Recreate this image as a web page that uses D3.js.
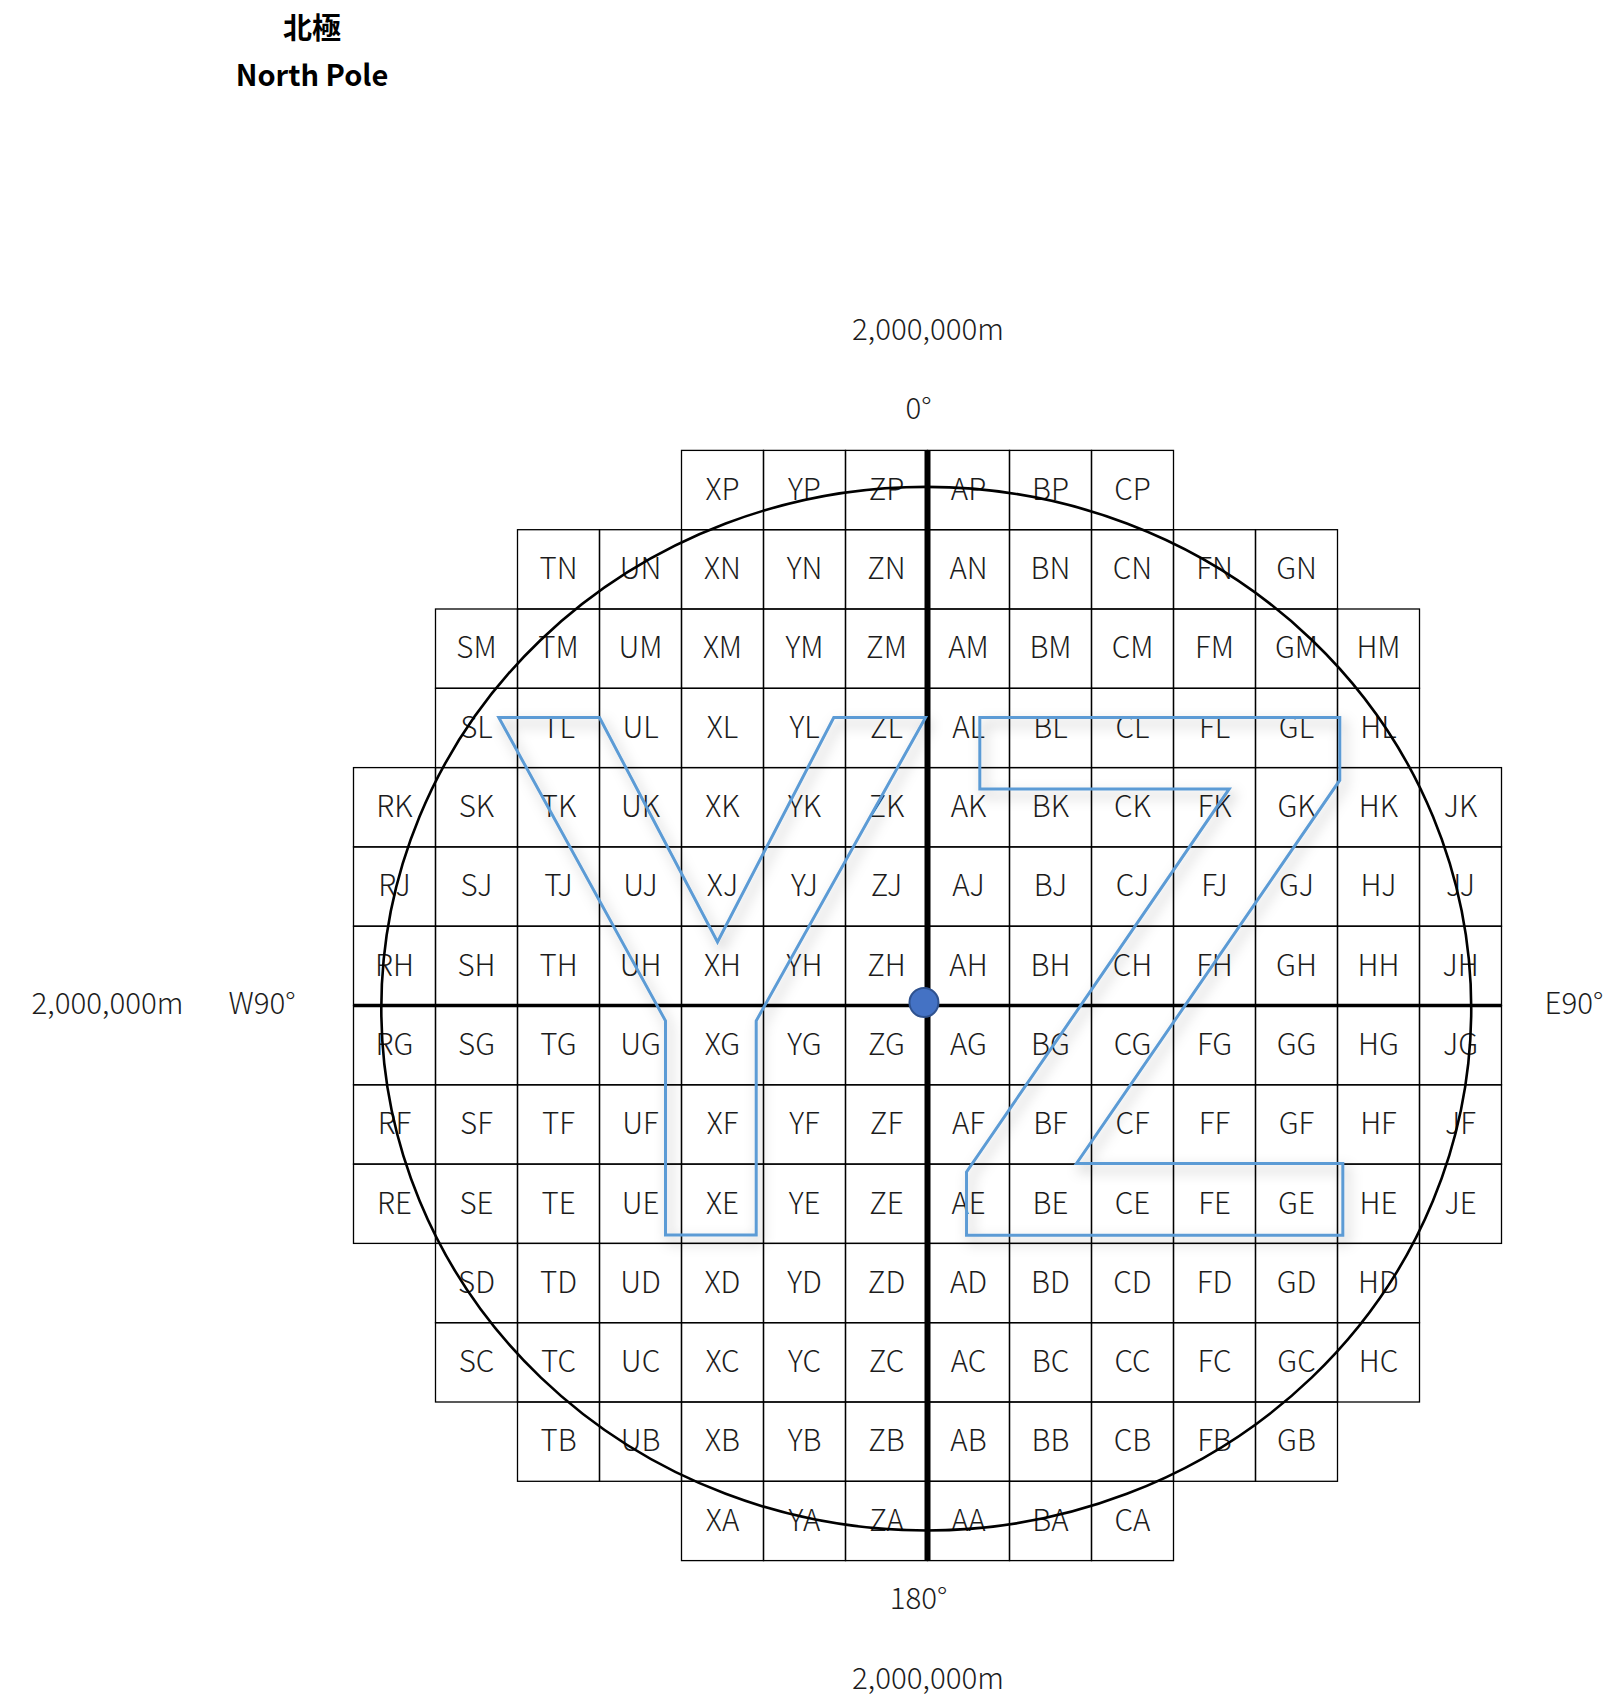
<!DOCTYPE html>
<html>
<head>
<meta charset="utf-8">
<script src="https://cdnjs.cloudflare.com/ajax/libs/d3/7.8.5/d3.min.js"></script>
<style>
  body { margin: 0; background: #fff; }
  text { font-family: "Noto Sans CJK JP", "Noto Sans", sans-serif; font-weight: 300; fill: #1c1c1c; }
</style>
</head>
<body>
<script>
// grid letters, west to east and north to south
var columns = ["R", "S", "T", "U", "X", "Y", "Z", "A", "B", "C", "F", "G", "H", "J"];
var rows = ["P", "N", "M", "L", "K", "J", "H", "G", "F", "E", "D", "C", "B", "A"];
// first and last column present in each row
var rowFirst = ["X", "T", "S", "S", "R", "R", "R", "R", "R", "R", "S", "S", "T", "X"];
var rowLast = ["C", "G", "H", "H", "J", "J", "J", "J", "J", "J", "H", "H", "G", "C"];

// outlines of the two big letters, in grid cells from the centre
var letterY = [[-5.228, 3.632], [-4.0, 3.632], [-2.561, 0.802], [-1.143, 3.632], [-0.024, 3.632],
    [-2.089, -0.194], [-2.089, -2.893], [-3.195, -2.893], [-3.195, -0.194]];
var letterZ = [[0.638, 3.632], [5.028, 3.632], [5.028, 2.841], [1.817, -1.992], [5.065, -1.992],
    [5.065, -2.897], [0.476, -2.897], [0.476, -2.098], [3.679, 2.731], [0.638, 2.731]];

// the 2,000,000m ring and the pole mark, in grid cells
var ringCentre = [-0.015, -0.04];
var ringRadius = [6.646, 6.58];
var polePoint = [-0.043, 0.038];

var width = 1606, height = 1698;
var svg = d3.select("body").append("svg")
    .attr("width", width)
    .attr("height", height)
    .style("display", "block");

var xCell = d3.scaleBand().domain(columns).range([353.5, 1501.5]);
var yCell = d3.scaleBand().domain(rows).range([450.4, 1560.6]);
var x = d3.scaleLinear().domain([-7, 7]).range([353.5, 1501.5]);
var y = d3.scaleLinear().domain([7, -7]).range([450.4, 1560.6]);

var shadow = svg.append("defs").append("filter")
    .attr("id", "soft")
    .attr("x", "-10%").attr("y", "-10%")
    .attr("width", "125%").attr("height", "125%");
shadow.append("feDropShadow")
    .attr("dx", 4).attr("dy", 6)
    .attr("stdDeviation", 6.5)
    .attr("flood-color", "#000")
    .attr("flood-opacity", 0.3);

// one entry per cell that exists
var cells = [];
rows.forEach(function (r, i) {
    var from = columns.indexOf(rowFirst[i]), to = columns.indexOf(rowLast[i]);
    columns.slice(from, to + 1).forEach(function (c) {
        cells.push({ column: c, row: r });
    });
});

var cell = svg.selectAll("g.cell")
    .data(cells)
    .enter()
    .append("g")
    .attr("class", "cell")
    .attr("transform", function (d) {
        return "translate(" + xCell(d.column) + "," + yCell(d.row) + ")";
    });

cell.append("rect")
    .attr("width", xCell.bandwidth())
    .attr("height", yCell.bandwidth())
    .attr("fill", "none")
    .attr("stroke", "#000")
    .attr("stroke-width", 1.3);

cell.append("text")
    .attr("x", xCell.bandwidth() / 2)
    .attr("y", yCell.bandwidth() / 2 + 9.8)
    .attr("text-anchor", "middle")
    .attr("font-size", 29.5)
    .text(function (d) { return d.column + d.row; });

// central axes
svg.append("line")
    .attr("x1", x(0)).attr("x2", x(0))
    .attr("y1", y(7)).attr("y2", y(-7))
    .attr("stroke", "#000").attr("stroke-width", 6);
svg.append("line")
    .attr("x1", x(-7)).attr("x2", x(7))
    .attr("y1", y(0)).attr("y2", y(0))
    .attr("stroke", "#000").attr("stroke-width", 3.5);

svg.append("ellipse")
    .attr("cx", x(ringCentre[0]))
    .attr("cy", y(ringCentre[1]))
    .attr("rx", x(ringRadius[0]) - x(0))
    .attr("ry", y(0) - y(ringRadius[1]))
    .attr("fill", "none")
    .attr("stroke", "#000")
    .attr("stroke-width", 2.6);

var outline = d3.line()
    .x(function (d) { return x(d[0]); })
    .y(function (d) { return y(d[1]); })
    .curve(d3.curveLinearClosed);

svg.selectAll("path.letter")
    .data([letterY, letterZ])
    .enter()
    .append("path")
    .attr("class", "letter")
    .attr("d", outline)
    .attr("fill", "none")
    .attr("stroke", "#5B9BD5")
    .attr("stroke-width", 3)
    .attr("filter", "url(#soft)");

svg.append("circle")
    .attr("cx", x(polePoint[0]))
    .attr("cy", y(polePoint[1]))
    .attr("r", 14.5)
    .attr("fill", "#4472C4")
    .attr("stroke", "#2F528F")
    .attr("stroke-width", 2);

// edge labels
var edgeLabels = ["2,000,000m", "0°", "2,000,000m", "W90°", "E90°", "180°", "2,000,000m"];
var edgeX = [928, 918.5, 107.5, 262, 1574, 918.5, 928];
var edgeY = [340, 418.5, 1013.5, 1013.5, 1013.5, 1609, 1688.5];

svg.selectAll("text.edge")
    .data(edgeLabels)
    .enter()
    .append("text")
    .attr("class", "edge")
    .attr("x", function (d, i) { return edgeX[i]; })
    .attr("y", function (d, i) { return edgeY[i]; })
    .attr("text-anchor", "middle")
    .attr("font-size", 29.5)
    .text(function (d) { return d; });

var titleLines = ["北極", "North Pole"];
var titleY = [39, 85.5];

svg.selectAll("text.title")
    .data(titleLines)
    .enter()
    .append("text")
    .attr("class", "title")
    .attr("x", 312)
    .attr("y", function (d, i) { return titleY[i]; })
    .attr("text-anchor", "middle")
    .attr("font-size", 29)
    .style("font-weight", 700)
    .style("fill", "#000")
    .text(function (d) { return d; });
</script>
</body>
</html>
